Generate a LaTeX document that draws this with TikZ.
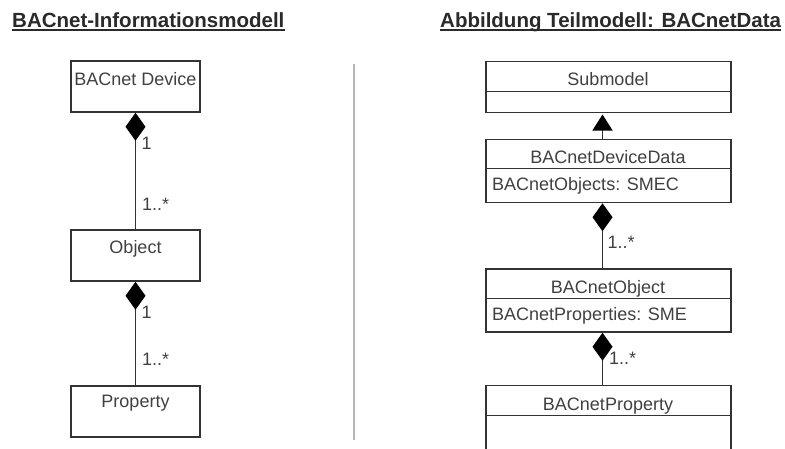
\documentclass[tikz,border=0pt]{standalone}
\usepackage{fontspec}
\setmainfont{Liberation Sans}
\usetikzlibrary{arrows.meta}
\definecolor{linec}{HTML}{333333}
\definecolor{textc}{HTML}{404040}
\definecolor{titlec}{HTML}{2A2A2A}
\definecolor{sepc}{HTML}{B5B5B5}
\begin{document}
\begin{tikzpicture}[x=1pt,y=-1pt,
  box/.style={draw=linec,line width=1.5pt,rectangle,inner sep=0pt,fill=none},
  lbl/.style={inner sep=0pt,text=textc,font=\fontsize{18}{20}\selectfont,anchor=base},
  attr/.style={lbl,anchor=base west},
  mult/.style={lbl,anchor=base west},
  ttl/.style={inner sep=0pt,text=titlec,font=\fontsize{20.5}{22}\selectfont\bfseries,anchor=base west},
  ul/.style={draw=titlec,line width=2pt},
  divider/.style={draw=linec,line width=1.5pt},
  comp/.style={draw=linec,line width=1.4pt,{Diamond[length=28pt,width=20pt,fill=black,color=black]}-},
  gen/.style={draw=linec,line width=1.4pt,-{Triangle[length=16pt,width=20pt,fill=black,color=black]},shorten >=1.5pt},
]
\useasboundingbox (0,0) rectangle (785,448);

% titles
\node[ttl] (t1) at (12,27) {BACnet-Informationsmodell};
\draw[ul] ([yshift=-2.8pt]t1.base west) -- ([yshift=-2.8pt]t1.base east);
\node[ttl] (t2) at (440,27) {Abbildung Teilmodell: BACnetData};
\draw[ul] ([yshift=-2.8pt]t2.base west) -- ([yshift=-2.8pt]t2.base east);

% separator
\coordinate (s1) at (354,64);
\coordinate (s2) at (354,440);
\draw[draw=sepc,line width=1.3pt] (s1) -- (s2);

% left side
\node[box,minimum width=129pt,minimum height=51pt] (dev) at (135.5,86.5) {};
\node[lbl] (devt) at (135.5,85.5) {BACnet Device};
\node[box,minimum width=129pt,minimum height=51pt] (obj) at (135.5,255.5) {};
\node[lbl] (objt) at (135.5,253) {Object};
\node[box,minimum width=129pt,minimum height=51pt] (prop) at (135.5,411.5) {};
\node[lbl] (propt) at (135.5,407) {Property};

\node[mult] (m1) at (141.5,149) {1};
\node[mult] (m2) at (142,210) {1..*};
\node[mult] (m3) at (141.5,318.5) {1};
\node[mult] (m4) at (142,365) {1..*};
\draw[comp] (dev.south) -- (obj.north);
\draw[comp] (obj.south) -- (prop.north);

% right side
\node[box,minimum width=245pt,minimum height=51pt] (sub) at (608.5,86.75) {};
\draw[divider] (486,91.5) -- (731,91.5);
\node[lbl] (subt) at (608,85.5) {Submodel};

\node[box,minimum width=245pt,minimum height=63pt] (dd) at (608.5,171) {};
\draw[divider] (486,168.5) -- (731,168.5);
\node[lbl] (ddt) at (608,163) {BACnetDeviceData};
\node[attr] (dda) at (492,190.5) {BACnetObjects: SMEC};

\node[box,minimum width=245pt,minimum height=63pt] (bo) at (608.5,300.5) {};
\draw[divider] (486,298.5) -- (731,298.5);
\node[lbl] (bot) at (608,293) {BACnetObject};
\node[attr] (boa) at (492,320) {BACnetProperties: SME};

\node[box,minimum width=245pt,minimum height=80pt] (bp) at (608.5,425.5) {};
\draw[divider] (486,415.5) -- (731,415.5);
\node[lbl] (bpt) at (608,410) {BACnetProperty};

\node[mult] (m5) at (607.5,248) {1..*};
\node[mult] (m6) at (609,364) {1..*};

\draw[gen] ([xshift=-6pt]dd.north) -- ([xshift=-6pt]sub.south);
\draw[comp] ([xshift=-6pt]dd.south) -- ([xshift=-6pt]bo.north);
\draw[comp] ([xshift=-6pt]bo.south) -- ([xshift=-6pt]bp.north);
\end{tikzpicture}
\end{document}
